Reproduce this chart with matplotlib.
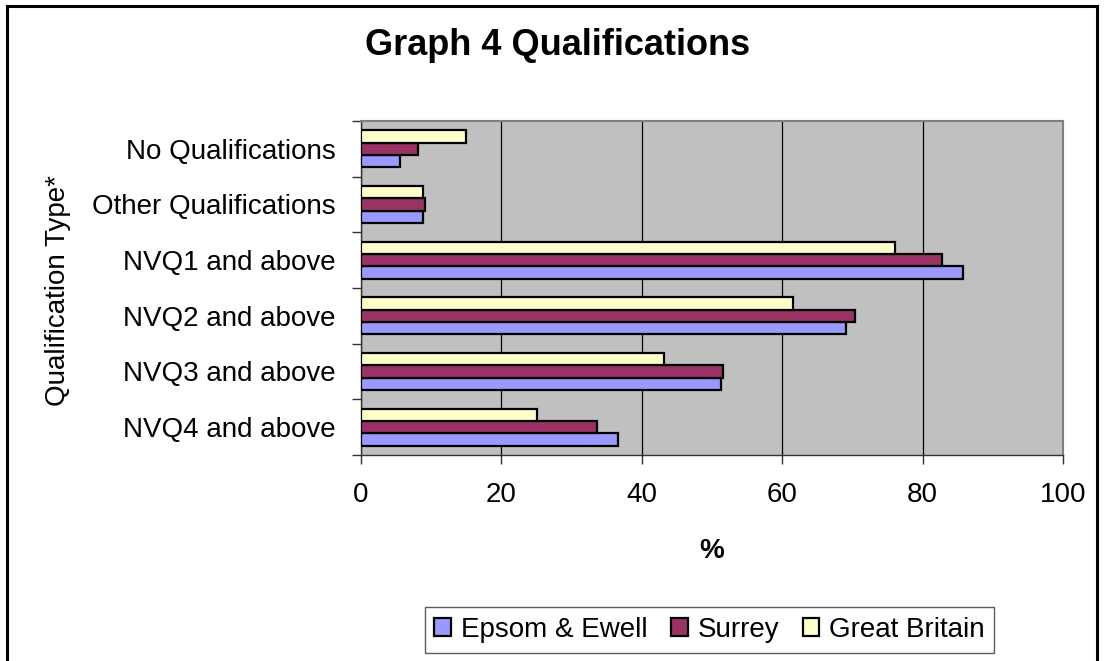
import numpy as np
import matplotlib
matplotlib.use('Agg')
import matplotlib.pyplot as plt
from matplotlib.lines import Line2D

plt.rcParams['font.family'] = ['Liberation Sans', 'DejaVu Sans']

# Qualification levels, bottom of the chart first
categories = ['NVQ4 and above', 'NVQ3 and above', 'NVQ2 and above',
              'NVQ1 and above', 'Other Qualifications', 'No Qualifications']
epsom = [36.6, 51.3, 69.1, 85.7, 8.8, 5.6]
surrey = [33.6, 51.6, 70.4, 82.8, 9.1, 8.1]
great_britain = [25.1, 43.1, 61.6, 76.0, 8.8, 15.0]
series_names = ['Epsom & Ewell', 'Surrey', 'Great Britain']
x_ticks = [0, 20, 40, 60, 80, 100]

colors = ['#9999FF', '#993366', '#FFFFCC']
W, H = 1106, 661
fig = plt.figure(figsize=(W / 100, H / 100), dpi=100)

# plot area in pixels: x 361..1063, y 121..455
ax = fig.add_axes([361 / W, 1 - 455 / H, (1063 - 361) / W, (455 - 121) / H])
ax.set_facecolor('#C0C0C0')

y = np.arange(len(categories))
bar_h = 0.222
for i, vals in enumerate([epsom, surrey, great_britain]):
    ax.barh(y + (i - 1) * bar_h, vals, height=bar_h, color=colors[i],
            edgecolor='black', linewidth=1.6, label=series_names[i], zorder=3)

ax.set_xlim(0, 100)
ax.set_ylim(-0.5, len(categories) - 0.5)
ax.set_xticks(x_ticks)
ax.set_xticklabels([str(t) for t in x_ticks], fontsize=20)
ax.xaxis.grid(True, color='black', linewidth=0.9, zorder=1)
ax.set_axisbelow(True)

# tick marks between categories, labels centred on each category
ax.set_yticks(np.arange(-0.5, len(categories), 1.0))
ax.set_yticklabels([])
ax.set_yticks(y, minor=True)
ax.set_yticklabels(categories, minor=True, fontsize=20)
ax.tick_params(axis='y', which='major', direction='out', length=6.5, width=1.0, color='#333333')
ax.tick_params(axis='y', which='minor', length=0, pad=18.5)
ax.tick_params(axis='x', direction='out', length=6.5, width=1.0, color='#333333', pad=13)

for side in ['top', 'right']:
    ax.spines[side].set_color('#808080')
    ax.spines[side].set_linewidth(1.5)
for side in ['left', 'bottom']:
    ax.spines[side].set_color('#333333')
    ax.spines[side].set_linewidth(1.0)

fig.text(558 / W, 1 - 55 / H, 'Graph 4 Qualifications', fontsize=26,
         fontweight='bold', ha='center', va='baseline')
fig.text(712 / W, 1 - 558 / H, '%', fontsize=20, fontweight='bold',
         ha='center', va='baseline')
fig.text(58 / W, 1 - 291 / H, 'Qualification Type*', fontsize=20,
         rotation=90, ha='center', va='center')

leg = fig.legend(loc='center', bbox_to_anchor=(709.5 / W, 1 - 630 / H), ncol=3,
                 fontsize=20, frameon=True, fancybox=False, edgecolor='#333333',
                 handlelength=0.6, handleheight=0.6, handletextpad=0.35,
                 columnspacing=0.85, borderpad=0.35, borderaxespad=0)
leg.get_frame().set_linewidth(1.0)

# chart border (open at the bottom)
border = dict(color='black', linewidth=2.2, transform=fig.transFigure)
fig.add_artist(Line2D([7 / W, 7 / W], [0, 1 - 6 / H], **border))
fig.add_artist(Line2D([7 / W, 1097 / W], [1 - 6 / H, 1 - 6 / H], **border))
fig.add_artist(Line2D([1097 / W, 1097 / W], [0, 1 - 6 / H], **border))

fig.savefig('out.png', dpi=100)
